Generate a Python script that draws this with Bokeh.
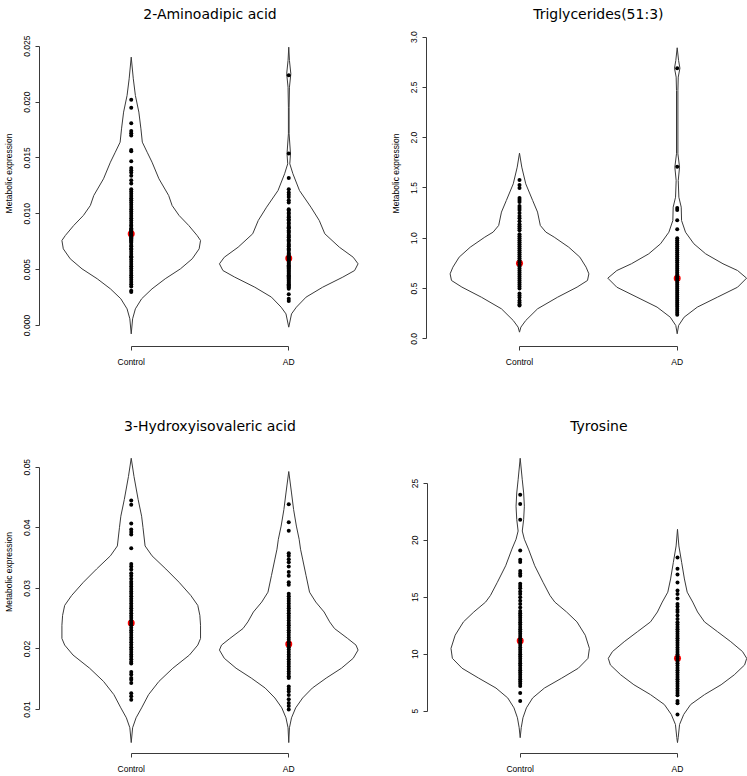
from bokeh.plotting import figure
from bokeh.layouts import column, row
from bokeh.models import Range1d, FixedTicker, PrintfTickFormatter, Label
from bokeh.embed import file_html
from bokeh.resources import INLINE

groups = ["Control", "AD"]
titles = ["2-Aminoadipic acid", "Triglycerides(51:3)", "3-Hydroxyisovaleric acid", "Tyrosine"]
ylabel = "Metabolic expression"

# ---- individual observations (dots) ----
ctrl_aad = [0.0202, 0.0195, 0.0181, 0.0174, 0.0172, 0.0170, 0.0157, 0.0156, 0.0147, 0.0141, 0.0139,
            0.0137, 0.0134, 0.0130, 0.0127, 0.0122, 0.0120, 0.0118, 0.0116, 0.0114, 0.0112, 0.0110,
            0.0108, 0.0106, 0.0104, 0.0102, 0.0100, 0.0098, 0.0096, 0.0094, 0.0092, 0.0090, 0.0089,
            0.0087, 0.0086, 0.0085, 0.0084, 0.0083, 0.0082, 0.0081, 0.0080, 0.0079, 0.0078, 0.0077,
            0.0076, 0.0075, 0.0074, 0.0072, 0.0071, 0.0069, 0.0068, 0.0066, 0.0064, 0.0062, 0.0061,
            0.0059, 0.0057, 0.0055, 0.0053, 0.0051, 0.0049, 0.0047, 0.0045, 0.0043, 0.0041, 0.0039,
            0.0037, 0.0035, 0.0031, 0.0030]
ad_aad = [0.0224, 0.0154, 0.0132, 0.0122, 0.0119, 0.0117, 0.0115, 0.0112, 0.0110, 0.0104, 0.0103,
          0.0101, 0.0100, 0.0098, 0.0097, 0.0095, 0.0094, 0.0092, 0.0091, 0.0089, 0.0088, 0.0087,
          0.0085, 0.0084, 0.0083, 0.0081, 0.0080, 0.0079, 0.0077, 0.0076, 0.0075, 0.0073, 0.0072,
          0.0071, 0.0069, 0.0068, 0.0067, 0.0065, 0.0064, 0.0063, 0.0062, 0.0061, 0.0060, 0.0059,
          0.0058, 0.0057, 0.0056, 0.0055, 0.0054, 0.0053, 0.0052, 0.0051, 0.0050, 0.0049, 0.0048,
          0.0047, 0.0046, 0.0045, 0.0044, 0.0043, 0.0042, 0.0041, 0.0040, 0.0039, 0.0038, 0.0037,
          0.0036, 0.0035, 0.0034, 0.0033, 0.0028, 0.0024, 0.0022]
ctrl_tg = [1.58, 1.53, 1.50, 1.40, 1.38, 1.36, 1.32, 1.30, 1.28, 1.25, 1.22, 1.20, 1.17, 1.14, 1.12,
           1.10, 1.08, 1.04, 1.02, 1.00, 0.98, 0.96, 0.94, 0.92, 0.90, 0.88, 0.86, 0.84, 0.82, 0.80,
           0.78, 0.76, 0.74, 0.72, 0.70, 0.68, 0.66, 0.64, 0.62, 0.60, 0.58, 0.56, 0.54, 0.52, 0.50,
           0.45, 0.43, 0.41, 0.38, 0.36, 0.34, 0.33]
ad_tg = [2.69, 1.71, 1.30, 1.28, 1.18, 1.09, 1.00, 0.98, 0.96, 0.94, 0.92, 0.90, 0.88, 0.86, 0.84,
         0.82, 0.80, 0.78, 0.76, 0.74, 0.72, 0.70, 0.68, 0.66, 0.64, 0.62, 0.60, 0.58, 0.56, 0.54,
         0.52, 0.50, 0.48, 0.46, 0.44, 0.42, 0.40, 0.38, 0.36, 0.34, 0.32, 0.30, 0.28, 0.26, 0.24]
ctrl_hiva = [0.0445, 0.0438, 0.0407, 0.0397, 0.0393, 0.0389, 0.0366, 0.0340, 0.0336, 0.0331, 0.0325,
             0.0321, 0.0316, 0.0311, 0.0307, 0.0303, 0.0299, 0.0295, 0.0291, 0.0287, 0.0283, 0.0279,
             0.0275, 0.0271, 0.0267, 0.0263, 0.0259, 0.0255, 0.0251, 0.0247, 0.0243, 0.0239, 0.0235,
             0.0231, 0.0227, 0.0223, 0.0219, 0.0215, 0.0211, 0.0207, 0.0203, 0.0199, 0.0195, 0.0191,
             0.0187, 0.0183, 0.0179, 0.0176, 0.0162, 0.0158, 0.0152, 0.0149, 0.0144, 0.0127, 0.0122,
             0.0116]
ad_hiva = [0.0439, 0.0409, 0.0395, 0.0358, 0.0354, 0.0348, 0.0343, 0.0336, 0.0327, 0.0321, 0.0310,
           0.0306, 0.0291, 0.0287, 0.0283, 0.0279, 0.0275, 0.0271, 0.0267, 0.0263, 0.0259, 0.0255,
           0.0251, 0.0247, 0.0243, 0.0239, 0.0235, 0.0231, 0.0227, 0.0223, 0.0219, 0.0215, 0.0211,
           0.0207, 0.0203, 0.0199, 0.0195, 0.0191, 0.0187, 0.0183, 0.0179, 0.0175, 0.0171, 0.0167,
           0.0163, 0.0159, 0.0155, 0.0152, 0.0138, 0.0134, 0.0130, 0.0124, 0.0117, 0.0111, 0.0106,
           0.0100]
ctrl_tyr = [24.0, 23.2, 21.8, 19.1, 18.3, 18.1, 17.3, 17.1, 16.9, 16.2, 16.0, 15.8, 15.5, 15.3, 15.0,
            14.7, 14.4, 14.1, 13.8, 13.6, 13.4, 13.2, 13.0, 12.8, 12.6, 12.4, 12.2, 12.0, 11.8, 11.6,
            11.4, 11.2, 11.0, 10.8, 10.6, 10.4, 10.2, 10.0, 9.8, 9.6, 9.4, 9.2, 9.0, 8.8, 8.6, 8.4,
            8.2, 8.0, 7.8, 7.6, 7.4, 7.2, 6.6, 5.9]
ad_tyr = [18.5, 17.5, 17.0, 16.3, 15.6, 15.3, 14.9, 14.4, 14.2, 13.9, 13.7, 13.4, 13.1, 12.8, 12.6,
          12.4, 12.2, 12.0, 11.8, 11.6, 11.4, 11.2, 11.0, 10.8, 10.6, 10.4, 10.2, 10.0, 9.8, 9.6,
          9.4, 9.2, 9.0, 8.8, 8.6, 8.4, 8.2, 8.0, 7.8, 7.6, 7.4, 7.2, 7.0, 6.8, 6.6, 6.4, 5.9, 5.7, 4.7]

# ---- medians (red markers) ----
med_aad = [0.00821, 0.00603]
med_tg = [0.752, 0.603]
med_hiva = [0.0243, 0.0208]
med_tyr = [11.18, 9.64]

# ---- violin density profiles (level, relative density) ----
vy_ctrl_aad = [-0.00075, 0.00060, 0.00149, 0.00239, 0.00328, 0.00418, 0.00507, 0.00597, 0.00686,
               0.00761, 0.00806, 0.00895, 0.00985, 0.01074, 0.01164, 0.01313, 0.01462, 0.01551,
               0.01641, 0.01760, 0.01910, 0.02059, 0.02208, 0.02402]
vd_ctrl_aad = [0, 0.02, 0.06, 0.15, 0.30, 0.49, 0.71, 0.88, 0.98, 1.0, 0.95, 0.83, 0.69, 0.59, 0.54,
               0.40, 0.30, 0.23, 0.16, 0.14, 0.11, 0.06, 0.03, 0]
vy_ad_aad = [-0.00015, 0.00104, 0.00164, 0.00254, 0.00343, 0.00433, 0.00492, 0.00552, 0.00611,
             0.00701, 0.00821, 0.00940, 0.01059, 0.01208, 0.01358, 0.01447, 0.01537, 0.01716,
             0.01954, 0.02133, 0.02253, 0.02372, 0.02491]
vd_ad_aad = [0, 0.04, 0.11, 0.25, 0.49, 0.78, 0.95, 1.0, 0.93, 0.73, 0.52, 0.44, 0.32, 0.155, 0.06,
             0.015, 0.025, 0.005, 0.005, 0.01, 0.03, 0.01, 0]
vy_ctrl_tg = [0.066, 0.116, 0.182, 0.298, 0.414, 0.514, 0.580, 0.646, 0.712, 0.812, 0.911, 1.011,
              1.061, 1.127, 1.260, 1.375, 1.541, 1.707, 1.846]
vd_ctrl_tg = [0, 0.02, 0.09, 0.26, 0.55, 0.83, 0.98, 1.0, 0.96, 0.87, 0.71, 0.50, 0.38, 0.30, 0.26,
              0.19, 0.09, 0.033, 0]
vy_ad_tg = [0.050, 0.132, 0.215, 0.315, 0.414, 0.513, 0.603, 0.679, 0.746, 0.845, 0.945, 1.060,
            1.176, 1.309, 1.408, 1.574, 1.707, 1.840, 2.469, 2.602, 2.691, 2.768, 2.894]
vd_ad_tg = [0, 0.02, 0.10, 0.29, 0.58, 0.87, 1.0, 0.87, 0.66, 0.41, 0.24, 0.12, 0.063, 0.058, 0.024,
            0.015, 0.034, 0.01, 0.01, 0.015, 0.039, 0.02, 0]
vy_ctrl_hiva = [0.00455, 0.00700, 0.00864, 0.01028, 0.01246, 0.01465, 0.01682, 0.01900, 0.02064,
                0.02173, 0.02391, 0.02555, 0.02719, 0.02882, 0.03101, 0.03319, 0.03537, 0.03700,
                0.04001, 0.04191, 0.04465, 0.04846, 0.05147]
vd_ctrl_hiva = [0, 0.02, 0.07, 0.15, 0.25, 0.40, 0.60, 0.84, 0.96, 1.0, 1.0, 0.99, 0.96, 0.86, 0.69,
                0.50, 0.30, 0.20, 0.17, 0.15, 0.10, 0.04, 0]
vy_ad_hiva = [0.00455, 0.00700, 0.00864, 0.01028, 0.01191, 0.01355, 0.01519, 0.01682, 0.01846,
              0.01982, 0.02064, 0.02173, 0.02337, 0.02447, 0.02610, 0.02774, 0.02937, 0.03209,
              0.03483, 0.03646, 0.03810, 0.04028, 0.04301, 0.04574, 0.04928]
vd_ad_hiva = [0, 0.01, 0.04, 0.10, 0.20, 0.34, 0.54, 0.76, 0.93, 1.0, 0.97, 0.85, 0.66, 0.59, 0.51,
              0.39, 0.30, 0.25, 0.20, 0.17, 0.15, 0.11, 0.07, 0.04, 0]
vy_ctrl_tyr = [2.67, 3.55, 4.42, 5.29, 6.16, 7.03, 7.90, 8.77, 9.64, 10.51, 11.67, 12.84, 13.71,
               14.58, 15.16, 16.32, 17.77, 19.23, 20.10, 20.82, 21.84, 23.00, 24.16, 25.32, 27.21]
vd_ctrl_tyr = [0, 0.015, 0.04, 0.09, 0.18, 0.35, 0.60, 0.84, 0.98, 1.0, 0.94, 0.82, 0.67, 0.50,
               0.43, 0.33, 0.21, 0.12, 0.06, 0.03, 0.05, 0.06, 0.05, 0.03, 0]
vy_ad_tyr = [2.24, 2.67, 3.83, 4.71, 5.58, 6.45, 7.32, 8.19, 9.06, 9.64, 10.23, 11.10, 11.97, 12.84,
             13.71, 14.58, 15.45, 16.61, 18.07, 19.51, 20.97]
vd_ad_tyr = [0, 0.01, 0.03, 0.09, 0.19, 0.39, 0.63, 0.82, 0.97, 1.0, 0.94, 0.77, 0.58, 0.39, 0.29,
             0.22, 0.14, 0.10, 0.06, 0.02, 0]

# ---- y axis ticks ----
yticks_aad = [0.0, 0.005, 0.010, 0.015, 0.020, 0.025]
yticks_tg = [0.0, 0.5, 1.0, 1.5, 2.0, 2.5, 3.0]
yticks_hiva = [0.01, 0.02, 0.03, 0.04, 0.05]
yticks_tyr = [5, 10, 15, 20, 25]

HALF = 0.44
LINE = "#3a3a3a"
LAB_FONT = "Liberation Sans"


def violin_xy(center, ys, ds):
    xr = [center + HALF * d for d in ds]
    xl = [center - HALF * d for d in ds]
    return xr + xl[::-1], list(ys) + list(ys)[::-1]


def make_panel(title, title_y, ctrl, ad, prof_c, prof_a, med, yticks, yfmt, xr, yr, w, h,
               border_l, border_b, ylab, x_stand):
    p = figure(width=w, height=h, x_range=Range1d(*xr), y_range=Range1d(*yr),
               output_backend="svg", toolbar_location=None,
               min_border_left=border_l, min_border_right=0, min_border_top=0,
               min_border_bottom=border_b)
    p.outline_line_color = None
    p.xgrid.visible = False
    p.ygrid.visible = False
    p.background_fill_color = "white"
    p.border_fill_color = "white"

    for ax in (p.xaxis, p.yaxis):
        ax.axis_line_color = LINE
        ax.axis_line_width = 1
        ax.major_tick_line_color = LINE
        ax.major_tick_out = 4
        ax.major_tick_in = 0
        ax.minor_tick_line_color = None
        ax.major_label_text_font = LAB_FONT
        ax.major_label_text_font_size = "8.5px"
        ax.major_label_text_color = "black"

    p.xaxis.ticker = FixedTicker(ticks=[1, 2])
    p.xaxis.major_label_overrides = {1: groups[0], 2: groups[1]}
    p.xaxis.bounds = (1, 2)
    p.xaxis.major_label_standoff = x_stand

    p.yaxis.ticker = FixedTicker(ticks=yticks)
    p.yaxis.formatter = PrintfTickFormatter(format=yfmt)
    p.yaxis.bounds = (yticks[0], yticks[-1])
    p.yaxis.major_label_orientation = "vertical"
    p.yaxis.major_label_standoff = 5
    if ylab:
        p.yaxis.axis_label = ylab
        p.yaxis.axis_label_text_font = LAB_FONT
        p.yaxis.axis_label_text_font_size = "8.5px"
        p.yaxis.axis_label_text_font_style = "normal"
        p.yaxis.axis_label_text_color = "black"
        p.yaxis.axis_label_standoff = 8

    for center, (ys, ds) in zip([1, 2], [prof_c, prof_a]):
        vx, vy = violin_xy(center, ys, ds)
        p.patch(vx, vy, fill_color="white", line_color=LINE, line_width=1)

    p.scatter([1, 2], med, size=7, fill_color="red", line_color=None, marker="circle")
    p.scatter([1] * len(ctrl), ctrl, size=4, fill_color="black", line_color=None, marker="circle")
    p.scatter([2] * len(ad), ad, size=4, fill_color="black", line_color=None, marker="circle")

    p.add_layout(Label(x=1.5, y=title_y, text=title, text_align="center",
                       text_baseline="alphabetic", text_font="DejaVu Sans",
                       text_font_size="14px", text_color="black"))
    return p


p1 = make_panel(titles[0], 0.02784, ctrl_aad, ad_aad, (vy_ctrl_aad, vd_ctrl_aad), (vy_ad_aad, vd_ad_aad),
                med_aad, yticks_aad, "%.3f", (0.41772, 2.53797), (-0.00188, 0.02909), 373, 390,
                38, 44, ylabel, 6)
p2 = make_panel(titles[1], 3.2299, ctrl_tg, ad_tg, (vy_ctrl_tg, vd_ctrl_tg), (vy_ad_tg, vd_ad_tg),
                med_tg, yticks_tg, "%.1f", (0.41028, 2.44578), (-0.07657, 3.3641), 374, 390,
                53, 44, ylabel, 6)
p3 = make_panel(titles[2], 0.05684, ctrl_hiva, ad_hiva, (vy_ctrl_hiva, vd_ctrl_hiva), (vy_ad_hiva, vd_ad_hiva),
                med_hiva, yticks_hiva, "%.2f", (0.41772, 2.53797), (0.002749, 0.062651), 373, 386,
                38, 20, ylabel, 6)
p4 = make_panel(titles[3], 30.07, ctrl_tyr, ad_tyr, (vy_ctrl_tyr, vd_ctrl_tyr), (vy_ad_tyr, vd_ad_tyr),
                med_tyr, yticks_tyr, "%d", (0.41068, 2.44501), (1.28049, 33.1620), 374, 386,
                54, 20, None, 6)

layout = column(row(p1, p2, spacing=0), row(p3, p4, spacing=0), spacing=0)
open("out.html", "w").write(file_html(layout, INLINE))
